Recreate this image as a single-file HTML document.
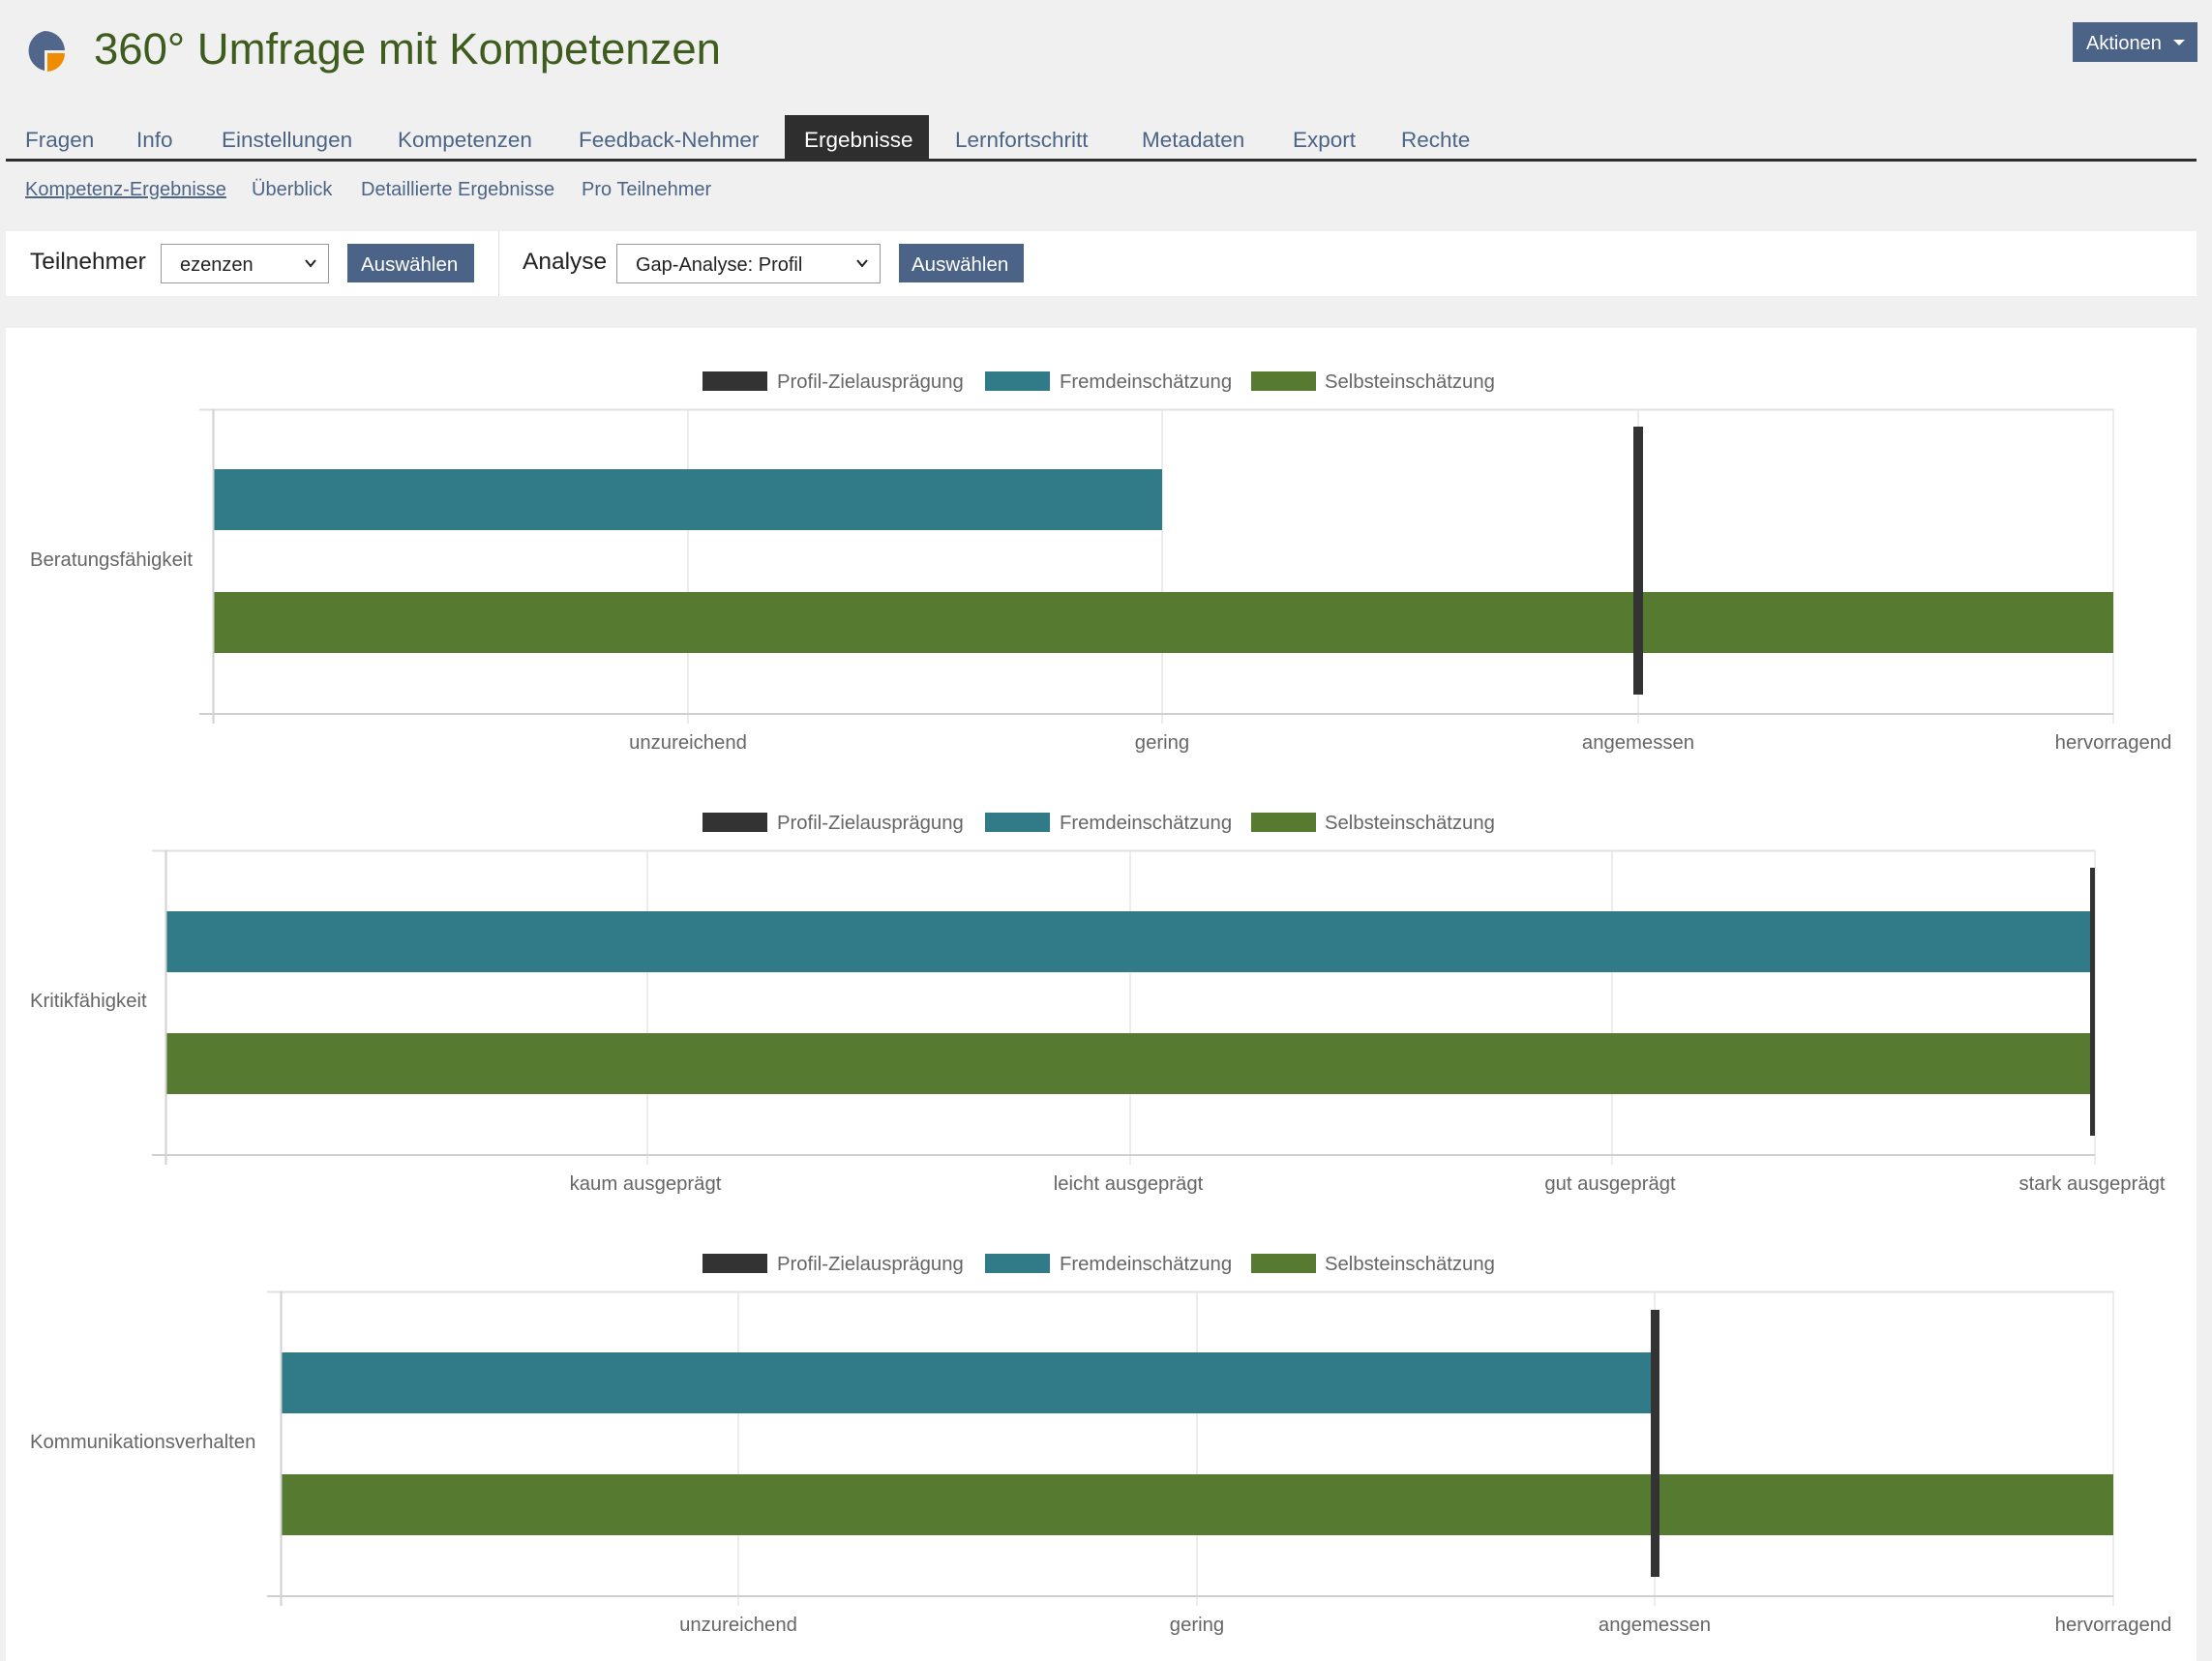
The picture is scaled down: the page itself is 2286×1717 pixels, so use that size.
<!DOCTYPE html>
<html><head><meta charset="utf-8"><style>
html,body{margin:0;padding:0;background:#f0f0f0;width:2286px;height:1717px;overflow:hidden}
svg{display:block}
.t{font-family:"Liberation Sans",sans-serif}
</style></head><body>
<svg width="2286" height="1717" viewBox="0 0 2286 1717" xmlns="http://www.w3.org/2000/svg">
<rect width="2286" height="1717" fill="#f0f0f0"/>
<!-- logo -->
<path d="M46 32 A21 21 0 0 0 46 73 L46 52 L67 52 A21 21 0 0 0 46 32Z" fill="#52668c"/>
<path d="M49 55 L67 55 A19 19 0 0 1 49 74 Z" fill="#f08c00"/>
<text x="97" y="66" class="t" font-size="45.5" fill="#3d5c1d">360° Umfrage mit Kompetenzen</text>
<!-- Aktionen -->
<rect x="2142" y="23" width="129" height="41" fill="#4b6386"/>
<text x="2156" y="51" class="t" font-size="20" fill="#fff">Aktionen</text>
<path d="M2246 41 L2258 41 L2252 47Z" fill="#fff"/>
<!-- tabs -->
<rect x="811" y="119" width="149" height="47" fill="#2e2e2e"/>
<rect x="6" y="164" width="2264" height="3" fill="#2e2e2e"/>
<g class="t" font-size="22.5" fill="#4c6586">
<text x="26" y="152">Fragen</text>
<text x="141" y="152">Info</text>
<text x="229" y="152">Einstellungen</text>
<text x="411" y="152">Kompetenzen</text>
<text x="598" y="152">Feedback-Nehmer</text>
<text x="831" y="152" fill="#fff">Ergebnisse</text>
<text x="987" y="152">Lernfortschritt</text>
<text x="1180" y="152">Metadaten</text>
<text x="1336" y="152">Export</text>
<text x="1448" y="152">Rechte</text>
</g>
<g class="t" font-size="20" fill="#4c6586">
<text x="26" y="202" text-decoration="underline">Kompetenz-Ergebnisse</text>
<text x="260" y="202">Überblick</text>
<text x="373" y="202">Detaillierte Ergebnisse</text>
<text x="601" y="202">Pro Teilnehmer</text>
</g>
<!-- filter bar -->
<rect x="6" y="239" width="2264" height="67" fill="#fff"/>
<rect x="515" y="239" width="1" height="67" fill="#ddd"/>
<g class="t">
<text x="31" y="278" font-size="24.5" fill="#222">Teilnehmer</text>
<rect x="166.5" y="252.5" width="173" height="40" fill="#fff" stroke="#999"/>
<text x="186" y="280" font-size="20" fill="#222">ezenzen</text>
<path d="M316 269 l5 6 l5 -6" stroke="#222" stroke-width="2" fill="none"/>
<rect x="359" y="252" width="131" height="40" fill="#4b6386"/>
<text x="373" y="280" font-size="20.5" fill="#fff">Auswählen</text>
<text x="540" y="278" font-size="24.5" fill="#222">Analyse</text>
<rect x="637.5" y="252.5" width="272" height="40" fill="#fff" stroke="#999"/>
<text x="657" y="280" font-size="20" fill="#222">Gap-Analyse: Profil</text>
<path d="M886 269 l5 6 l5 -6" stroke="#222" stroke-width="2" fill="none"/>
<rect x="929" y="252" width="129" height="40" fill="#4b6386"/>
<text x="942" y="280" font-size="20.5" fill="#fff">Auswählen</text>
</g>
<!-- chart panel -->
<rect x="6" y="339" width="2264" height="1378" fill="#fff"/>

<!-- legends -->
<g class="t" font-size="20.3" fill="#666">
<g id="lg">
<rect x="726" y="384" width="67" height="20" fill="#333"/>
<text x="803" y="401">Profil-Zielausprägung</text>
<rect x="1018" y="384" width="67" height="20" fill="#307b87"/>
<text x="1095" y="401">Fremdeinschätzung</text>
<rect x="1293" y="384" width="67" height="20" fill="#557a30"/>
<text x="1369" y="401">Selbsteinschätzung</text>
</g>
<use href="#lg" y="456"/>
<use href="#lg" y="912"/>
</g>

<!-- chart 1 -->
<g>
<line x1="206" y1="423.5" x2="2184" y2="423.5" stroke="#e0e0e0" stroke-width="2"/>
<g stroke="#e6e6e6" stroke-width="1.5">
<line x1="711" y1="423" x2="711" y2="748"/><line x1="1201" y1="423" x2="1201" y2="748"/>
<line x1="1693" y1="423" x2="1693" y2="748"/><line x1="2184" y1="423" x2="2184" y2="748"/>
</g>
<rect x="221" y="485" width="980" height="63" fill="#307b87"/>
<rect x="221" y="612" width="1963" height="63" fill="#557a30"/>
<rect x="1688" y="441" width="10" height="277" fill="#333"/>
<line x1="220.5" y1="423" x2="220.5" y2="748" stroke="#d0d0d0" stroke-width="2"/>
<line x1="206" y1="738" x2="2184" y2="738" stroke="#d0d0d0" stroke-width="2"/>
<g class="t" font-size="20.3" fill="#666" text-anchor="middle">
<text x="711" y="774">unzureichend</text><text x="1201" y="774">gering</text>
<text x="1693" y="774">angemessen</text><text x="2184" y="774">hervorragend</text>
</g>
<text x="31" y="585" class="t" font-size="20.3" fill="#666">Beratungsfähigkeit</text>
</g>

<!-- chart 2 -->
<g>
<line x1="157" y1="879.5" x2="2165" y2="879.5" stroke="#e0e0e0" stroke-width="2"/>
<g stroke="#e6e6e6" stroke-width="1.5">
<line x1="669" y1="879" x2="669" y2="1204"/><line x1="1168" y1="879" x2="1168" y2="1204"/>
<line x1="1666" y1="879" x2="1666" y2="1204"/><line x1="2165" y1="879" x2="2165" y2="1204"/>
</g>
<rect x="172" y="942" width="1988" height="63" fill="#307b87"/>
<rect x="172" y="1068" width="1988" height="63" fill="#557a30"/>
<rect x="2160" y="897" width="5" height="277" fill="#333"/>
<line x1="171.5" y1="879" x2="171.5" y2="1204" stroke="#d0d0d0" stroke-width="2"/>
<line x1="157" y1="1194" x2="2165" y2="1194" stroke="#d0d0d0" stroke-width="2"/>
<g class="t" font-size="20.3" fill="#666" text-anchor="middle">
<text x="667" y="1230">kaum ausgeprägt</text><text x="1166" y="1230">leicht ausgeprägt</text>
<text x="1664" y="1230">gut ausgeprägt</text><text x="2162" y="1230">stark ausgeprägt</text>
</g>
<text x="31" y="1041" class="t" font-size="20.3" fill="#666">Kritikfähigkeit</text>
</g>

<!-- chart 3 -->
<g>
<line x1="276" y1="1335.5" x2="2184" y2="1335.5" stroke="#e0e0e0" stroke-width="2"/>
<g stroke="#e6e6e6" stroke-width="1.5">
<line x1="763" y1="1335" x2="763" y2="1660"/><line x1="1237" y1="1335" x2="1237" y2="1660"/>
<line x1="1710" y1="1335" x2="1710" y2="1660"/><line x1="2184" y1="1335" x2="2184" y2="1660"/>
</g>
<rect x="291" y="1398" width="1416" height="63" fill="#307b87"/>
<rect x="291" y="1524" width="1893" height="63" fill="#557a30"/>
<rect x="1706" y="1354" width="9" height="276" fill="#333"/>
<line x1="290.5" y1="1335" x2="290.5" y2="1660" stroke="#d0d0d0" stroke-width="2"/>
<line x1="276" y1="1650" x2="2184" y2="1650" stroke="#d0d0d0" stroke-width="2"/>
<g class="t" font-size="20.3" fill="#666" text-anchor="middle">
<text x="763" y="1686">unzureichend</text><text x="1237" y="1686">gering</text>
<text x="1710" y="1686">angemessen</text><text x="2184" y="1686">hervorragend</text>
</g>
<text x="31" y="1497" class="t" font-size="20.3" fill="#666">Kommunikationsverhalten</text>
</g>
</svg>
</body></html>
